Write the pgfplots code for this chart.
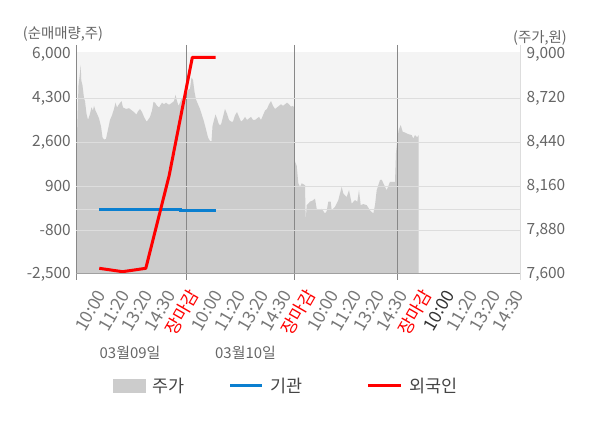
\documentclass[border=0pt]{standalone}
\usepackage{fontspec}
\setmainfont{Noto Sans CJK KR}
\usepackage{pgfplots}
\usepackage{pgfplotstable}
\pgfplotsset{compat=1.18}
\definecolor{bgc}{HTML}{F4F4F4}
\definecolor{areac}{HTML}{CCCCCC}
\definecolor{gridc}{HTML}{DDDDDD}
\definecolor{sepc}{HTML}{888888}
\definecolor{tickc}{HTML}{666666}
\definecolor{xlabc}{HTML}{777777}
\definecolor{legc}{HTML}{444444}
\definecolor{bluec}{HTML}{0A7FD0}
\definecolor{redc}{HTML}{FF0000}
\pgfplotstableread{
u p
0 7600
0 8470
1 8480
2.5 8800
4 8880
4.7 8930
5.3 8830
6.5 8800
8 8720
9 8700
10.5 8620
12 8580
14 8620
15.5 8660
17 8640
18 8670
19.5 8640
21 8620
23 8590
25 8540
26.5 8470
28 8455
30 8460
32 8520
34 8580
36 8610
38 8650
39.5 8690
41 8660
43 8680
45.5 8700
47 8660
50 8650
53 8655
56 8640
58 8630
60.5 8615
62 8635
64 8650
66 8630
68 8600
70.5 8570
72 8580
74 8600
76 8640
77.5 8695
79 8690
81 8670
83 8660
86 8690
88 8680
90 8690
92 8680
94 8680
96 8690
98 8700
99.5 8740
101 8700
102.5 8670
104 8690
105.7 8720
107 8700
109 8690
110.5 8740
112 8771
114 8780
115.5 8850
117 8835
118.5 8760
120 8710
122 8680
124 8650
126 8610
128 8570
130 8520
132 8470
134 8445
135.5 8445
136.5 8540
138 8580
139.5 8615
141 8590
143 8550
145 8550
147 8600
149 8650
151 8620
153 8580
155 8570
157 8570
159 8610
161 8630
163 8600
165 8570
167 8580
169 8600
171 8580
173 8590
175 8600
177 8580
179 8580
181 8590
183 8600
185 8580
187 8610
189 8640
191 8650
193 8680
195 8700
197 8670
199 8650
201 8660
203 8670
205 8680
207 8670
209 8680
211 8690
213 8680
215 8665
217 8670
218 8660
219 8315
220.7 8290
222.3 8177
224 8155
225.7 8177
229 8165
229.7 7933
230.7 8038
234 8060
237.3 8070
239 8080
240.7 8015
243.3 8005
245.7 8015
249 7985
250.7 8000
252.3 8060
254.7 8060
255.7 8005
259 8027
262.3 8070
265.7 8155
267.3 8112
270.7 8090
273 8133
275.7 8048
279 8070
281.3 8060
283 8133
284.7 8038
287.3 8045
290.7 8038
294 8005
297.3 7985
299 8038
300.7 8133
304 8198
305.7 8200
309 8155
310.7 8133
314 8187
319 8187
320 8370
321.3 8455
322.7 8516
324.7 8548
326.7 8505
329 8500
332.3 8490
335.7 8484
337.3 8462
339 8484
341.3 8470
342.7 8484
342.7 7600
}\pricetable
\begin{document}
\begin{tikzpicture}
\path[use as bounding box] (0bp,0bp) rectangle (600bp,428bp);
\fill[bgc] (76bp,154bp) rectangle (520bp,376bp);
\begin{axis}[
  at={(76bp,154bp)}, anchor=south west,
  width=444bp, height=220bp, scale only axis,
  xmin=0, xmax=444, ymin=7600, ymax=9000,
  axis line style={draw=none}, xtick=\empty,
  ytick={7600,7880,8160,8440,8720,9000},
  yticklabels={{7,600},{7,880},{8,160},{8,440},{8,720},{9,000}},
  ytick pos=right, yticklabel pos=right, major tick length=0pt,
  yticklabel style={font=\fontsize{15.5}{18}\selectfont, text=tickc, inner sep=0pt, xshift=6.5bp},
]
\addplot[fill=areac, draw=none] table[x=u, y=p] {\pricetable} \closedcycle;
\end{axis}
% separators and axis lines
\foreach \xx in {186,294,397} {\draw[sepc, line width=1bp] (\xx bp,383bp) -- (\xx bp,148bp);}
\draw[sepc, line width=1bp] (76bp,383bp) -- (76bp,148bp);
\draw[gridc, line width=1bp] (520bp,383bp) -- (520bp,148bp);
\begin{axis}[
  at={(76bp,154bp)}, anchor=south west,
  width=444bp, height=220bp, scale only axis,
  xmin=0, xmax=444, ymin=-2500, ymax=6000,
  axis line style={draw=none},
  ytick={-2500,-800,900,2600,4300,6000},
  yticklabels={{-2,500},{-800},{900},{2,600},{4,300},{6,000}},
  ytick pos=left, major tick length=0pt,
  yticklabel style={font=\fontsize{15.5}{18}\selectfont, text=tickc, inner sep=0pt, xshift=-5bp},
  extra y ticks={-800,900,2600,4300,0},
  extra y tick labels={},
  extra y tick style={ymajorgrids=true, major grid style={gridc, line width=1bp}},
  xtick={25.5,48.72,71.94,95.16,118.38,141.6,164.82,188.04,211.26,234.48,257.7,280.92,304.14,327.36,350.58,373.8,397.02,420.24,443.46},
  xticklabels={10:00,11:20,13:20,14:30,\textcolor{redc}{장마감},10:00,11:20,13:20,14:30,\textcolor{redc}{장마감},10:00,11:20,13:20,14:30,\textcolor{redc}{장마감},\textcolor{black!80}{10:00},11:20,13:20,14:30},
  xticklabel style={font=\fontsize{17.5}{20}\selectfont, text=xlabc, inner sep=0pt, xshift=0bp, yshift=-17.5bp, rotate=60, anchor=east},
]
\addplot[bluec, line width=3bp, const plot mark mid] coordinates {(23.27,0) (46.54,0) (69.81,0) (93.08,0) (116.35,-55) (139.62,-55)};
\addplot[redc, line width=3bp, line join=round] coordinates {(23.27,-2280) (46.54,-2411) (69.81,-2280) (93.08,1291) (116.35,5872) (139.62,5872)};
\end{axis}
\draw[sepc!80, line width=1bp] (76bp,154bp) -- (520bp,154bp);
% axis titles
\node[anchor=west, inner sep=0pt, text=tickc, font=\fontsize{14.5}{17}\selectfont] at (22.7bp,394bp) {(순매매량,주)};
\node[anchor=east, inner sep=0pt, text=tickc, font=\fontsize{14.5}{17}\selectfont] at (567bp,390bp) {(주가,원)};
% dates
\node[text=tickc, font=\fontsize{15}{18}\selectfont] at (130bp,75bp) {03월09일};
\node[text=tickc, font=\fontsize{15}{18}\selectfont] at (245.5bp,75bp) {03월10일};
% legend
\fill[areac] (113bp,35.3bp) rectangle (146bp,49bp);
\node[anchor=west, inner sep=0pt, text=legc, font=\fontsize{17.5}{20}\selectfont] at (152bp,42bp) {주가};
\draw[bluec, line width=3bp] (230bp,42.3bp) -- (261.7bp,42.3bp);
\node[anchor=west, inner sep=0pt, text=legc, font=\fontsize{17.5}{20}\selectfont] at (270bp,42bp) {기관};
\draw[redc, line width=3bp] (368bp,42.3bp) -- (400.7bp,42.3bp);
\node[anchor=west, inner sep=0pt, text=legc, font=\fontsize{17.5}{20}\selectfont] at (409bp,42bp) {외국인};
\end{tikzpicture}
\end{document}
